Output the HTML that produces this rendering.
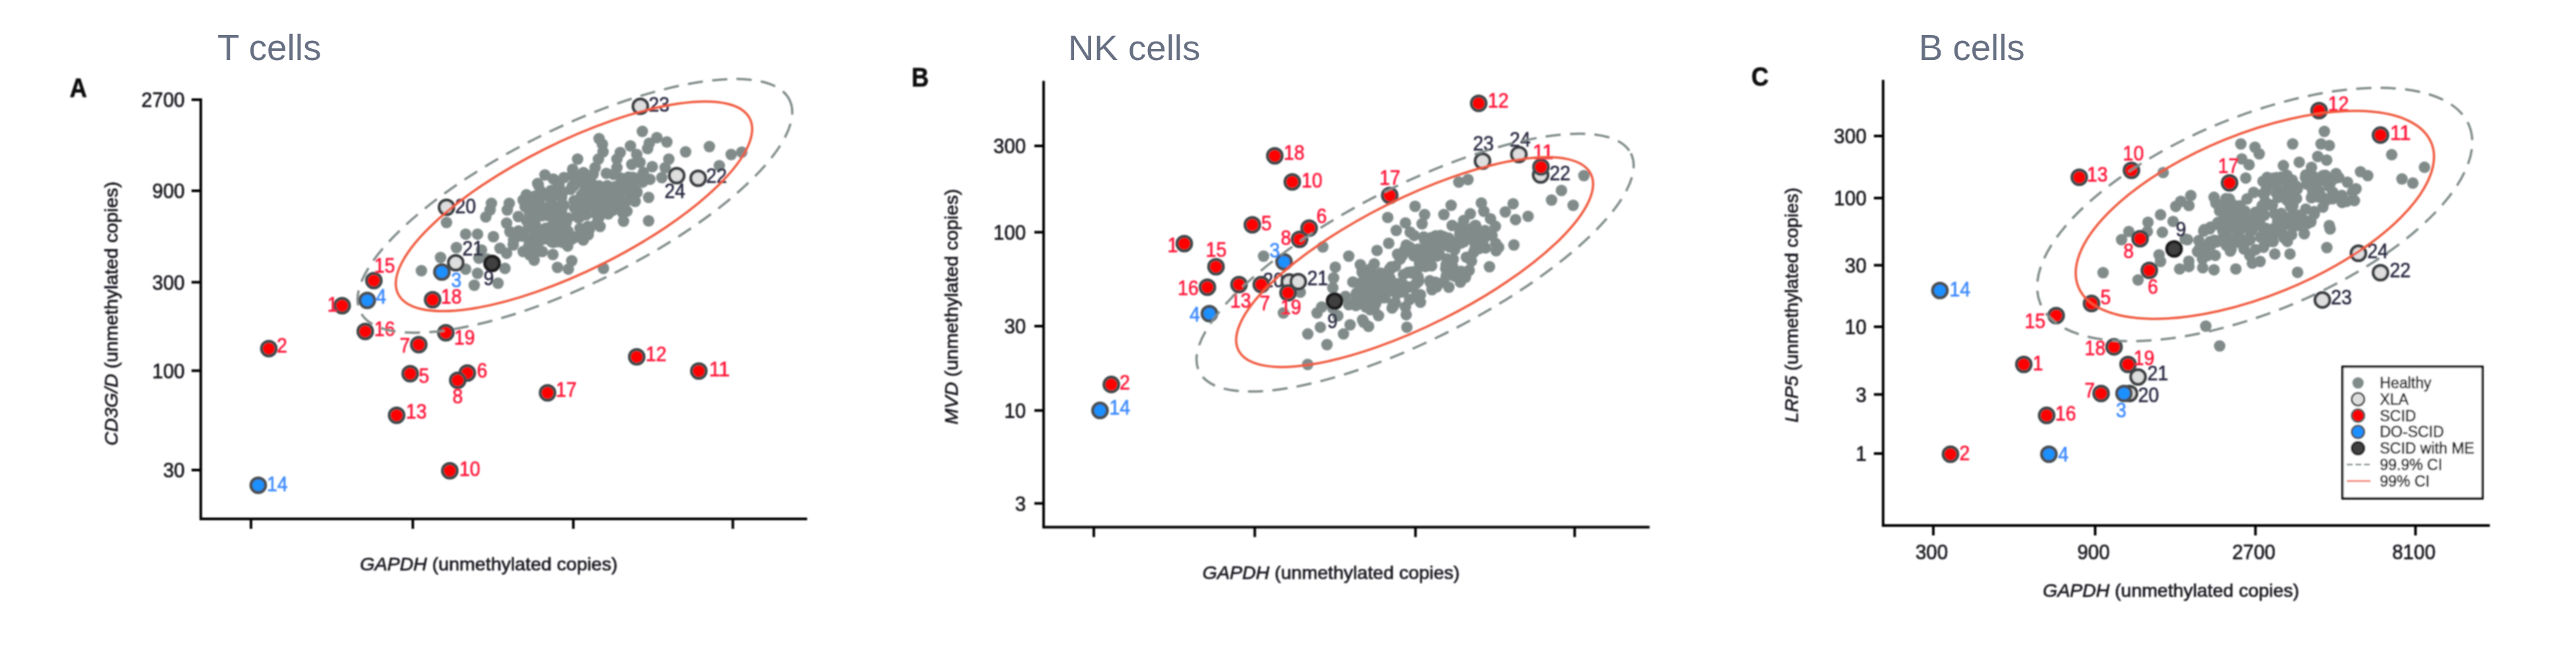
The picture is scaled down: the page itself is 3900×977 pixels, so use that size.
<!DOCTYPE html>
<html lang="en"><head><meta charset="utf-8"><title>Figure</title>
<style>
html,body{margin:0;padding:0;background:#fff;}
body{width:3900px;height:977px;overflow:hidden;}
svg{display:block;}
svg .ttl text{stroke:none;}
svg text{stroke-width:0.7px;stroke-linejoin:round;font-family:'Liberation Sans', Arial, sans-serif;font-size:31px;}
</style></head><body>
<svg width="3900" height="977" viewBox="0 0 3900 977">
<defs><filter id="soft" filterUnits="userSpaceOnUse" x="0" y="0" width="3900" height="977"><feGaussianBlur stdDeviation="0.9"/></filter></defs>
<rect width="3900" height="977" fill="#fff"/>
<g filter="url(#soft)">
<text transform="translate(105.5 146.5) scale(0.885 1)" style="font-size:41px;font-weight:bold" fill="#0a0a0a" stroke="#0a0a0a">A</text>
<path d="M304 149V786H1222" fill="none" stroke="#000" stroke-width="3.9" stroke-linejoin="miter"/>
<path d="M290 151H304M290 289H304M290 427.5H304M290 561.5H304M290 712H304M380 786V801M625 786V801M868 786V801M1109.5 786V801" fill="none" stroke="#000" stroke-width="3.9"/>
<text x="279.7" y="162" text-anchor="end" textLength="65.6" lengthAdjust="spacingAndGlyphs" fill="#17171f" stroke="#17171f">2700</text>
<text x="279.7" y="300" text-anchor="end" textLength="49.2" lengthAdjust="spacingAndGlyphs" fill="#17171f" stroke="#17171f">900</text>
<text x="279.7" y="438.5" text-anchor="end" textLength="49.2" lengthAdjust="spacingAndGlyphs" fill="#17171f" stroke="#17171f">300</text>
<text x="279.7" y="572.5" text-anchor="end" textLength="49.2" lengthAdjust="spacingAndGlyphs" fill="#17171f" stroke="#17171f">100</text>
<text x="279.7" y="723" text-anchor="end" textLength="32.8" lengthAdjust="spacingAndGlyphs" fill="#17171f" stroke="#17171f">30</text>
<text transform="translate(178 675) rotate(-90)" textLength="400" lengthAdjust="spacingAndGlyphs" style="font-size:28.5px" fill="#17171f" stroke="#17171f"><tspan font-style="italic">CD3G/D</tspan> (unmethylated copies)</text>
<text x="545" y="864" textLength="390" lengthAdjust="spacingAndGlyphs" style="font-size:28.5px" fill="#17171f" stroke="#17171f"><tspan font-style="italic">GAPDH</tspan> (unmethylated copies)</text>
<g fill="#808b8a">
<circle cx="972.5" cy="199" r="8.7"/><circle cx="907" cy="210" r="8.7"/><circle cx="912" cy="218.5" r="8.7"/><circle cx="913" cy="230" r="8.7"/><circle cx="954.5" cy="221" r="8.7"/><circle cx="994.5" cy="208.5" r="8.7"/><circle cx="1009.6" cy="215" r="8.7"/><circle cx="983" cy="217" r="8.7"/><circle cx="980.5" cy="225" r="8.7"/><circle cx="1038" cy="230" r="8.7"/><circle cx="1074" cy="222" r="8.7"/><circle cx="1107" cy="234" r="8.7"/><circle cx="1123" cy="230.5" r="8.7"/><circle cx="1089" cy="251" r="8.7"/><circle cx="874.5" cy="241" r="8.7"/><circle cx="1012.6" cy="241" r="8.7"/><circle cx="1007" cy="254" r="8.7"/><circle cx="1002" cy="269" r="8.7"/><circle cx="867" cy="256.5" r="8.7"/><circle cx="825" cy="265" r="8.7"/><circle cx="814" cy="278" r="8.7"/><circle cx="906" cy="241" r="8.7"/><circle cx="901" cy="254" r="8.7"/><circle cx="898" cy="264" r="8.7"/><circle cx="939" cy="231" r="8.7"/><circle cx="934" cy="241" r="8.7"/><circle cx="964" cy="234" r="8.7"/><circle cx="969" cy="246" r="8.7"/><circle cx="934" cy="254" r="8.7"/><circle cx="956.5" cy="249" r="8.7"/><circle cx="929" cy="264" r="8.7"/><circle cx="959" cy="269" r="8.7"/><circle cx="974" cy="261.5" r="8.7"/><circle cx="984" cy="271.6" r="8.7"/><circle cx="944" cy="274" r="8.7"/><circle cx="744" cy="308" r="8.7"/><circle cx="742" cy="318" r="8.7"/><circle cx="735.5" cy="328.6" r="8.7"/><circle cx="771" cy="308" r="8.7"/><circle cx="768" cy="318" r="8.7"/><circle cx="676" cy="337" r="8.7"/><circle cx="705" cy="354.7" r="8.7"/><circle cx="723" cy="354.7" r="8.7"/><circle cx="747" cy="358.5" r="8.7"/><circle cx="691" cy="375" r="8.7"/><circle cx="667" cy="390" r="8.7"/><circle cx="638" cy="410" r="8.7"/><circle cx="705" cy="407.7" r="8.7"/><circle cx="723" cy="414" r="8.7"/><circle cx="725" cy="391" r="8.7"/><circle cx="729" cy="378.7" r="8.7"/><circle cx="754" cy="429" r="8.7"/><circle cx="718" cy="432" r="8.7"/><circle cx="767" cy="338" r="8.7"/><circle cx="772" cy="351" r="8.7"/><circle cx="784.7" cy="328" r="8.7"/><circle cx="782" cy="358.5" r="8.7"/><circle cx="757" cy="376" r="8.7"/><circle cx="767" cy="383.7" r="8.7"/><circle cx="764.5" cy="406.5" r="8.7"/><circle cx="777" cy="371" r="8.7"/><circle cx="792" cy="381" r="8.7"/><circle cx="802" cy="386" r="8.7"/><circle cx="808.7" cy="394" r="8.7"/><circle cx="821" cy="381" r="8.7"/><circle cx="844" cy="405" r="8.7"/><circle cx="860.5" cy="407.7" r="8.7"/><circle cx="865.6" cy="395" r="8.7"/><circle cx="913.6" cy="406.5" r="8.7"/><circle cx="908.5" cy="343" r="8.7"/><circle cx="944" cy="335" r="8.7"/><circle cx="982" cy="334.5" r="8.7"/><circle cx="843" cy="366" r="8.7"/><circle cx="863" cy="363.5" r="8.7"/><circle cx="883" cy="363.5" r="8.7"/><circle cx="887" cy="357" r="8.7"/><circle cx="878" cy="346" r="8.7"/><circle cx="860.5" cy="353" r="8.7"/><circle cx="838" cy="356" r="8.7"/><circle cx="817.5" cy="353" r="8.7"/><circle cx="807" cy="363.5" r="8.7"/><circle cx="800" cy="346" r="8.7"/><circle cx="802" cy="330.6" r="8.7"/><circle cx="795" cy="313" r="8.7"/><circle cx="797" cy="295" r="8.7"/><circle cx="815" cy="280" r="8.7"/><circle cx="792" cy="303" r="8.7"/><circle cx="880.7" cy="325.6" r="8.7"/><circle cx="920" cy="318" r="8.7"/><circle cx="939" cy="308" r="8.7"/><circle cx="961.6" cy="305" r="8.7"/><circle cx="982" cy="299" r="8.7"/><circle cx="964" cy="290" r="8.7"/><circle cx="865.7" cy="265.6" r="8.7"/><circle cx="844.8" cy="283.7" r="8.7"/><circle cx="864" cy="286.9" r="8.7"/><circle cx="874.9" cy="267.7" r="8.7"/><circle cx="844.6" cy="294.2" r="8.7"/><circle cx="804.4" cy="307.8" r="8.7"/><circle cx="883.3" cy="261.5" r="8.7"/><circle cx="819.5" cy="295.5" r="8.7"/><circle cx="840.4" cy="287.7" r="8.7"/><circle cx="818.1" cy="289" r="8.7"/><circle cx="820.3" cy="296.5" r="8.7"/><circle cx="876.9" cy="271.4" r="8.7"/><circle cx="853.8" cy="269" r="8.7"/><circle cx="809.6" cy="297.1" r="8.7"/><circle cx="869" cy="281.3" r="8.7"/><circle cx="883.7" cy="262.8" r="8.7"/><circle cx="878" cy="275.2" r="8.7"/><circle cx="829.8" cy="296.6" r="8.7"/><circle cx="847.8" cy="287.5" r="8.7"/><circle cx="871.2" cy="268.9" r="8.7"/><circle cx="817.6" cy="301.3" r="8.7"/><circle cx="866.8" cy="281.1" r="8.7"/><circle cx="833.9" cy="288.8" r="8.7"/><circle cx="851" cy="293.1" r="8.7"/><circle cx="846.2" cy="280.8" r="8.7"/><circle cx="837.8" cy="271.2" r="8.7"/><circle cx="808.5" cy="311.9" r="8.7"/><circle cx="890.5" cy="265.9" r="8.7"/><circle cx="844.9" cy="313.4" r="8.7"/><circle cx="890.9" cy="350.1" r="8.7"/><circle cx="931.2" cy="296.8" r="8.7"/><circle cx="939.9" cy="269.6" r="8.7"/><circle cx="892.3" cy="347.2" r="8.7"/><circle cx="890.3" cy="311.7" r="8.7"/><circle cx="831.4" cy="348.3" r="8.7"/><circle cx="942.2" cy="312" r="8.7"/><circle cx="960.3" cy="296.9" r="8.7"/><circle cx="938.3" cy="291.7" r="8.7"/><circle cx="886" cy="311.4" r="8.7"/><circle cx="881" cy="297.2" r="8.7"/><circle cx="876.5" cy="320.6" r="8.7"/><circle cx="842.8" cy="327.5" r="8.7"/><circle cx="887.4" cy="325.3" r="8.7"/><circle cx="897.2" cy="308.1" r="8.7"/><circle cx="814.1" cy="359.8" r="8.7"/><circle cx="957" cy="302.8" r="8.7"/><circle cx="944.8" cy="310.4" r="8.7"/><circle cx="837.4" cy="367" r="8.7"/><circle cx="898.1" cy="279.9" r="8.7"/><circle cx="919.5" cy="281.3" r="8.7"/><circle cx="801.8" cy="369.1" r="8.7"/><circle cx="832.1" cy="312.5" r="8.7"/><circle cx="808.9" cy="358.2" r="8.7"/><circle cx="803" cy="342.4" r="8.7"/><circle cx="916.9" cy="297.8" r="8.7"/><circle cx="839.7" cy="338.6" r="8.7"/><circle cx="777.5" cy="363.8" r="8.7"/><circle cx="850.9" cy="311.7" r="8.7"/><circle cx="869.3" cy="303.9" r="8.7"/><circle cx="906.6" cy="329.9" r="8.7"/><circle cx="812" cy="370.8" r="8.7"/><circle cx="814.3" cy="368.6" r="8.7"/><circle cx="912.9" cy="306.5" r="8.7"/><circle cx="935.9" cy="292.7" r="8.7"/><circle cx="825.2" cy="358.9" r="8.7"/><circle cx="857.3" cy="337.1" r="8.7"/><circle cx="844.2" cy="347.9" r="8.7"/><circle cx="781.9" cy="355" r="8.7"/><circle cx="848.1" cy="362.8" r="8.7"/><circle cx="851.3" cy="367.1" r="8.7"/><circle cx="922.2" cy="292.3" r="8.7"/><circle cx="880.2" cy="295.5" r="8.7"/><circle cx="917" cy="301.8" r="8.7"/><circle cx="847.1" cy="325.4" r="8.7"/><circle cx="822.5" cy="362.2" r="8.7"/><circle cx="853.5" cy="310.8" r="8.7"/><circle cx="802" cy="372" r="8.7"/><circle cx="835.3" cy="342.7" r="8.7"/><circle cx="852.3" cy="361.6" r="8.7"/><circle cx="811.1" cy="342.3" r="8.7"/><circle cx="835.3" cy="321.5" r="8.7"/><circle cx="920.9" cy="324.1" r="8.7"/><circle cx="957.6" cy="268.9" r="8.7"/><circle cx="957.9" cy="294.1" r="8.7"/><circle cx="887.5" cy="352.1" r="8.7"/><circle cx="829.8" cy="362.2" r="8.7"/><circle cx="930.7" cy="301.5" r="8.7"/><circle cx="940.1" cy="279.6" r="8.7"/><circle cx="837.9" cy="326" r="8.7"/><circle cx="952.4" cy="290.8" r="8.7"/><circle cx="804.8" cy="362.1" r="8.7"/><circle cx="943.3" cy="312" r="8.7"/><circle cx="847.7" cy="345" r="8.7"/><circle cx="928.6" cy="286.2" r="8.7"/><circle cx="881.8" cy="298.6" r="8.7"/><circle cx="785.5" cy="350.8" r="8.7"/><circle cx="955.9" cy="286.1" r="8.7"/><circle cx="959.6" cy="276.3" r="8.7"/><circle cx="840.1" cy="361.5" r="8.7"/><circle cx="897.8" cy="280.7" r="8.7"/><circle cx="971.1" cy="267.7" r="8.7"/><circle cx="831.7" cy="362.6" r="8.7"/><circle cx="865.8" cy="362" r="8.7"/><circle cx="951.5" cy="268.3" r="8.7"/><circle cx="826.1" cy="345.7" r="8.7"/><circle cx="800.7" cy="371.6" r="8.7"/><circle cx="893.8" cy="309.2" r="8.7"/><circle cx="825.6" cy="315.3" r="8.7"/><circle cx="822.7" cy="357.9" r="8.7"/><circle cx="973.1" cy="275.7" r="8.7"/><circle cx="918.4" cy="312.4" r="8.7"/><circle cx="829.2" cy="348.9" r="8.7"/><circle cx="829.9" cy="326.7" r="8.7"/><circle cx="924.1" cy="305.7" r="8.7"/><circle cx="944.2" cy="282.3" r="8.7"/><circle cx="803.6" cy="326.6" r="8.7"/><circle cx="931" cy="282.6" r="8.7"/><circle cx="859.7" cy="349.8" r="8.7"/><circle cx="837.1" cy="385.5" r="8.7"/><circle cx="911.6" cy="288.2" r="8.7"/><circle cx="840.4" cy="366" r="8.7"/><circle cx="785.1" cy="349.7" r="8.7"/><circle cx="874.5" cy="325.9" r="8.7"/><circle cx="877.1" cy="329.4" r="8.7"/><circle cx="846.1" cy="332.1" r="8.7"/><circle cx="964.4" cy="291.6" r="8.7"/><circle cx="859.5" cy="372.7" r="8.7"/><circle cx="738.1" cy="392.4" r="8.7"/><circle cx="927.4" cy="318.9" r="8.7"/><circle cx="875.5" cy="310.3" r="8.7"/><circle cx="909.6" cy="297.8" r="8.7"/><circle cx="889.6" cy="292.6" r="8.7"/><circle cx="943.5" cy="304.9" r="8.7"/><circle cx="917.1" cy="288.6" r="8.7"/><circle cx="897.8" cy="300" r="8.7"/><circle cx="885.1" cy="311.8" r="8.7"/><circle cx="918" cy="262.6" r="8.7"/><circle cx="850.2" cy="318.1" r="8.7"/><circle cx="838.3" cy="345.4" r="8.7"/><circle cx="834.8" cy="303.5" r="8.7"/><circle cx="875.4" cy="329.7" r="8.7"/><circle cx="987.5" cy="252.5" r="8.7"/><circle cx="787.5" cy="355.2" r="8.7"/><circle cx="907" cy="281.4" r="8.7"/><circle cx="829" cy="358.2" r="8.7"/><circle cx="873.6" cy="326.9" r="8.7"/><circle cx="820.8" cy="326.8" r="8.7"/><circle cx="848.5" cy="330" r="8.7"/><circle cx="853.9" cy="342.4" r="8.7"/><circle cx="914.8" cy="314.4" r="8.7"/><circle cx="895.2" cy="287.3" r="8.7"/><circle cx="804.6" cy="377.1" r="8.7"/><circle cx="874.1" cy="324.1" r="8.7"/><circle cx="791.3" cy="357.7" r="8.7"/><circle cx="819.8" cy="326.3" r="8.7"/><circle cx="813.8" cy="313.1" r="8.7"/><circle cx="890" cy="342.9" r="8.7"/><circle cx="825.1" cy="348.4" r="8.7"/><circle cx="805.1" cy="373.4" r="8.7"/><circle cx="871.5" cy="359" r="8.7"/><circle cx="898.1" cy="311.7" r="8.7"/><circle cx="949.2" cy="319.8" r="8.7"/><circle cx="909.4" cy="288" r="8.7"/><circle cx="806.5" cy="308.4" r="8.7"/><circle cx="810.9" cy="382.1" r="8.7"/><circle cx="850.3" cy="298.5" r="8.7"/><circle cx="954" cy="271.9" r="8.7"/><circle cx="902.1" cy="324.2" r="8.7"/><circle cx="903" cy="339" r="8.7"/><circle cx="869.7" cy="314.8" r="8.7"/><circle cx="812.1" cy="315.2" r="8.7"/><circle cx="835.2" cy="366.1" r="8.7"/><circle cx="942.4" cy="322" r="8.7"/><circle cx="892.2" cy="277.8" r="8.7"/><circle cx="906.4" cy="300.9" r="8.7"/><circle cx="873.2" cy="272.5" r="8.7"/><circle cx="801.8" cy="324" r="8.7"/><circle cx="935.5" cy="285.1" r="8.7"/><circle cx="884.9" cy="289.4" r="8.7"/><circle cx="910.6" cy="322" r="8.7"/><circle cx="903.7" cy="302.6" r="8.7"/><circle cx="809.7" cy="338.1" r="8.7"/><circle cx="919.7" cy="312.3" r="8.7"/><circle cx="890.6" cy="355.5" r="8.7"/><circle cx="916.1" cy="300" r="8.7"/><circle cx="859.9" cy="330.2" r="8.7"/><circle cx="797.5" cy="334.7" r="8.7"/><circle cx="889.4" cy="298" r="8.7"/>
</g>
<circle cx="969.5" cy="161" r="11.1" fill="#dedede" stroke="#3c4042" stroke-width="4.5"/>
<circle cx="1024.5" cy="266" r="11.1" fill="#dedede" stroke="#3c4042" stroke-width="4.5"/>
<circle cx="1057" cy="270" r="11.1" fill="#dedede" stroke="#3c4042" stroke-width="4.5"/>
<circle cx="676" cy="314" r="11.1" fill="#dedede" stroke="#3c4042" stroke-width="4.5"/>
<circle cx="690" cy="398" r="11.1" fill="#dedede" stroke="#3c4042" stroke-width="4.5"/>
<circle cx="745" cy="399" r="11.1" fill="#404040" stroke="#1c1c1c" stroke-width="4.5"/>
<circle cx="669" cy="412" r="11.1" fill="#1e90ff" stroke="#4a5052" stroke-width="4.5"/>
<circle cx="566" cy="425" r="11.1" fill="#ff0000" stroke="#414a4c" stroke-width="4.5"/>
<circle cx="556" cy="455" r="11.1" fill="#1e90ff" stroke="#4a5052" stroke-width="4.5"/>
<circle cx="518" cy="463" r="11.1" fill="#ff0000" stroke="#414a4c" stroke-width="4.5"/>
<circle cx="655" cy="454" r="11.1" fill="#ff0000" stroke="#414a4c" stroke-width="4.5"/>
<circle cx="553" cy="502" r="11.1" fill="#ff0000" stroke="#414a4c" stroke-width="4.5"/>
<circle cx="675" cy="504" r="11.1" fill="#ff0000" stroke="#414a4c" stroke-width="4.5"/>
<circle cx="634" cy="522" r="11.1" fill="#ff0000" stroke="#414a4c" stroke-width="4.5"/>
<circle cx="407" cy="528" r="11.1" fill="#ff0000" stroke="#414a4c" stroke-width="4.5"/>
<circle cx="964" cy="540.5" r="11.1" fill="#ff0000" stroke="#414a4c" stroke-width="4.5"/>
<circle cx="1058" cy="562" r="11.1" fill="#ff0000" stroke="#414a4c" stroke-width="4.5"/>
<circle cx="621" cy="566" r="11.1" fill="#ff0000" stroke="#414a4c" stroke-width="4.5"/>
<circle cx="707.5" cy="565" r="11.1" fill="#ff0000" stroke="#414a4c" stroke-width="4.5"/>
<circle cx="693" cy="576" r="11.1" fill="#ff0000" stroke="#414a4c" stroke-width="4.5"/>
<circle cx="829" cy="595" r="11.1" fill="#ff0000" stroke="#414a4c" stroke-width="4.5"/>
<circle cx="600.5" cy="629" r="11.1" fill="#ff0000" stroke="#414a4c" stroke-width="4.5"/>
<circle cx="681" cy="713" r="11.1" fill="#ff0000" stroke="#414a4c" stroke-width="4.5"/>
<circle cx="391" cy="735" r="11.1" fill="#1e90ff" stroke="#4a5052" stroke-width="4.5"/>
<text x="982" y="169" textLength="31.7" lengthAdjust="spacingAndGlyphs" fill="#2e2e46" stroke="#2e2e46">23</text>
<text x="1006" y="300" textLength="31.7" lengthAdjust="spacingAndGlyphs" fill="#2e2e46" stroke="#2e2e46">24</text>
<text x="1069" y="277" textLength="31.7" lengthAdjust="spacingAndGlyphs" fill="#2e2e46" stroke="#2e2e46">22</text>
<text x="689" y="323" textLength="31.7" lengthAdjust="spacingAndGlyphs" fill="#2e2e46" stroke="#2e2e46">20</text>
<text x="700" y="387" textLength="31.7" lengthAdjust="spacingAndGlyphs" fill="#2e2e46" stroke="#2e2e46">21</text>
<text x="732" y="432" textLength="15.8" lengthAdjust="spacingAndGlyphs" fill="#2e2e46" stroke="#2e2e46">9</text>
<text x="683" y="435" textLength="15.8" lengthAdjust="spacingAndGlyphs" fill="#3f8cff" stroke="#3f8cff">3</text>
<text x="566.4" y="413" textLength="31.7" lengthAdjust="spacingAndGlyphs" fill="#ff1a3c" stroke="#ff1a3c">15</text>
<text x="569" y="460" textLength="15.8" lengthAdjust="spacingAndGlyphs" fill="#3f8cff" stroke="#3f8cff">4</text>
<text x="495.4" y="472" textLength="15.8" lengthAdjust="spacingAndGlyphs" fill="#ff1a3c" stroke="#ff1a3c">1</text>
<text x="667.4" y="460" textLength="31.7" lengthAdjust="spacingAndGlyphs" fill="#ff1a3c" stroke="#ff1a3c">18</text>
<text x="566.4" y="509" textLength="31.7" lengthAdjust="spacingAndGlyphs" fill="#ff1a3c" stroke="#ff1a3c">16</text>
<text x="687.4" y="522" textLength="31.7" lengthAdjust="spacingAndGlyphs" fill="#ff1a3c" stroke="#ff1a3c">19</text>
<text x="605" y="534" textLength="15.8" lengthAdjust="spacingAndGlyphs" fill="#ff1a3c" stroke="#ff1a3c">7</text>
<text x="419" y="534" textLength="15.8" lengthAdjust="spacingAndGlyphs" fill="#ff1a3c" stroke="#ff1a3c">2</text>
<text x="977.4" y="547" textLength="31.7" lengthAdjust="spacingAndGlyphs" fill="#ff1a3c" stroke="#ff1a3c">12</text>
<text x="1073.4" y="570" textLength="31.7" lengthAdjust="spacingAndGlyphs" fill="#ff1a3c" stroke="#ff1a3c">11</text>
<text x="634" y="580" textLength="15.8" lengthAdjust="spacingAndGlyphs" fill="#ff1a3c" stroke="#ff1a3c">5</text>
<text x="722" y="572" textLength="15.8" lengthAdjust="spacingAndGlyphs" fill="#ff1a3c" stroke="#ff1a3c">6</text>
<text x="685" y="611" textLength="15.8" lengthAdjust="spacingAndGlyphs" fill="#ff1a3c" stroke="#ff1a3c">8</text>
<text x="841.4" y="601" textLength="31.7" lengthAdjust="spacingAndGlyphs" fill="#ff1a3c" stroke="#ff1a3c">17</text>
<text x="614.4" y="634" textLength="31.7" lengthAdjust="spacingAndGlyphs" fill="#ff1a3c" stroke="#ff1a3c">13</text>
<text x="695.4" y="721" textLength="31.7" lengthAdjust="spacingAndGlyphs" fill="#ff1a3c" stroke="#ff1a3c">10</text>
<text x="403.9" y="744" textLength="31.7" lengthAdjust="spacingAndGlyphs" fill="#3f8cff" stroke="#3f8cff">14</text>
<ellipse cx="870.4" cy="311.8" rx="362.4" ry="117.8" transform="rotate(-26.3 870.4 311.8)" fill="none" stroke="#808b8a" stroke-width="3.5" stroke-dasharray="23 14"/>
<ellipse cx="869" cy="312.5" rx="297.5" ry="97.4" transform="rotate(-26.5 869 312.5)" fill="none" stroke="#f0583c" stroke-width="3.5"/>
<text transform="translate(1380 130.5) scale(0.885 1)" style="font-size:41px;font-weight:bold" fill="#0a0a0a" stroke="#0a0a0a">B</text>
<path d="M1580 122.6V798.5H2497.5" fill="none" stroke="#000" stroke-width="3.9" stroke-linejoin="miter"/>
<path d="M1566 221H1580M1566 351.7H1580M1566 494H1580M1566 621.7H1580M1566 762.5H1580M1656 798.5V813.5M1899.7 798.5V813.5M2143 798.5V813.5M2384 798.5V813.5" fill="none" stroke="#000" stroke-width="3.9"/>
<text x="1553.2" y="232" text-anchor="end" textLength="49.2" lengthAdjust="spacingAndGlyphs" fill="#17171f" stroke="#17171f">300</text>
<text x="1553.2" y="362.7" text-anchor="end" textLength="49.2" lengthAdjust="spacingAndGlyphs" fill="#17171f" stroke="#17171f">100</text>
<text x="1553.2" y="505" text-anchor="end" textLength="32.8" lengthAdjust="spacingAndGlyphs" fill="#17171f" stroke="#17171f">30</text>
<text x="1553.2" y="632.7" text-anchor="end" textLength="32.8" lengthAdjust="spacingAndGlyphs" fill="#17171f" stroke="#17171f">10</text>
<text x="1553.2" y="773.5" text-anchor="end" textLength="16.4" lengthAdjust="spacingAndGlyphs" fill="#17171f" stroke="#17171f">3</text>
<text transform="translate(1450 643) rotate(-90)" textLength="357" lengthAdjust="spacingAndGlyphs" style="font-size:28.5px" fill="#17171f" stroke="#17171f"><tspan font-style="italic">MVD</tspan> (unmethylated copies)</text>
<text x="1820.6" y="876.6" textLength="389.4" lengthAdjust="spacingAndGlyphs" style="font-size:28.5px" fill="#17171f" stroke="#17171f"><tspan font-style="italic">GAPDH</tspan> (unmethylated copies)</text>
<g fill="#808b8a">
<circle cx="2398" cy="266" r="8.7"/><circle cx="2364" cy="288.5" r="8.7"/><circle cx="2349" cy="303" r="8.7"/><circle cx="2381.7" cy="311" r="8.7"/><circle cx="2208.6" cy="275.8" r="8.7"/><circle cx="2222.5" cy="272" r="8.7"/><circle cx="2142.4" cy="312.5" r="8.7"/><circle cx="2156.8" cy="325" r="8.7"/><circle cx="2153" cy="339" r="8.7"/><circle cx="2101" cy="329.4" r="8.7"/><circle cx="2127.8" cy="337.7" r="8.7"/><circle cx="2113.9" cy="349" r="8.7"/><circle cx="2135" cy="351.6" r="8.7"/><circle cx="2197" cy="311" r="8.7"/><circle cx="2186" cy="325" r="8.7"/><circle cx="2242.7" cy="307.4" r="8.7"/><circle cx="2246.5" cy="320" r="8.7"/><circle cx="2226" cy="323.8" r="8.7"/><circle cx="2290.8" cy="308.7" r="8.7"/><circle cx="2279" cy="321" r="8.7"/><circle cx="2313.5" cy="327.6" r="8.7"/><circle cx="2294.5" cy="332.7" r="8.7"/><circle cx="2198.5" cy="341.5" r="8.7"/><circle cx="2216" cy="334" r="8.7"/><circle cx="2256.6" cy="331.4" r="8.7"/><circle cx="2264" cy="342.8" r="8.7"/><circle cx="2180.8" cy="356.7" r="8.7"/><circle cx="2155.5" cy="359" r="8.7"/><circle cx="2223.8" cy="351.6" r="8.7"/><circle cx="2259" cy="356.7" r="8.7"/><circle cx="2234" cy="341.5" r="8.7"/><circle cx="1913" cy="388" r="8.7"/><circle cx="2002.7" cy="374" r="8.7"/><circle cx="2042" cy="388" r="8.7"/><circle cx="2021.6" cy="404.7" r="8.7"/><circle cx="2019" cy="421" r="8.7"/><circle cx="2017.8" cy="436" r="8.7"/><circle cx="2084.8" cy="379.4" r="8.7"/><circle cx="2059.5" cy="401" r="8.7"/><circle cx="2102.5" cy="368.5" r="8.7"/><circle cx="2292" cy="371" r="8.7"/><circle cx="2255" cy="404" r="8.7"/><circle cx="2212" cy="411" r="8.7"/><circle cx="2218.7" cy="420" r="8.7"/><circle cx="2211" cy="427.4" r="8.7"/><circle cx="2193.5" cy="435" r="8.7"/><circle cx="2173" cy="427.4" r="8.7"/><circle cx="2168" cy="438.8" r="8.7"/><circle cx="2150.5" cy="446.4" r="8.7"/><circle cx="2150.5" cy="457.8" r="8.7"/><circle cx="2127.8" cy="465" r="8.7"/><circle cx="2129" cy="476.7" r="8.7"/><circle cx="2130" cy="495.7" r="8.7"/><circle cx="2074.7" cy="469" r="8.7"/><circle cx="2087" cy="478" r="8.7"/><circle cx="2064.6" cy="488" r="8.7"/><circle cx="2072" cy="494.4" r="8.7"/><circle cx="2044" cy="492" r="8.7"/><circle cx="2034" cy="505.8" r="8.7"/><circle cx="2009" cy="522" r="8.7"/><circle cx="1999" cy="495.7" r="8.7"/><circle cx="1980" cy="505.8" r="8.7"/><circle cx="1994" cy="474" r="8.7"/><circle cx="2001" cy="465" r="8.7"/><circle cx="1943" cy="474" r="8.7"/><circle cx="1968.6" cy="442.6" r="8.7"/><circle cx="2042" cy="461.6" r="8.7"/><circle cx="2037" cy="449" r="8.7"/><circle cx="2107.6" cy="466.6" r="8.7"/><circle cx="1979.8" cy="552" r="8.7"/><circle cx="2100.6" cy="434.6" r="8.7"/><circle cx="2077.9" cy="421.5" r="8.7"/><circle cx="2080.5" cy="437.7" r="8.7"/><circle cx="2067.7" cy="418.1" r="8.7"/><circle cx="2062.3" cy="434.8" r="8.7"/><circle cx="2104.4" cy="421.3" r="8.7"/><circle cx="2060.3" cy="428.5" r="8.7"/><circle cx="2063" cy="430" r="8.7"/><circle cx="2070.7" cy="459.7" r="8.7"/><circle cx="2073.4" cy="438.8" r="8.7"/><circle cx="2048.2" cy="427.2" r="8.7"/><circle cx="2082.9" cy="459.5" r="8.7"/><circle cx="2075.2" cy="415.5" r="8.7"/><circle cx="2106.4" cy="435.1" r="8.7"/><circle cx="2097.3" cy="446.4" r="8.7"/><circle cx="2096.6" cy="439.9" r="8.7"/><circle cx="2094.1" cy="436.9" r="8.7"/><circle cx="2067.9" cy="439.9" r="8.7"/><circle cx="2079.6" cy="456.9" r="8.7"/><circle cx="2078.2" cy="452.2" r="8.7"/><circle cx="2068.5" cy="460.3" r="8.7"/><circle cx="2098.7" cy="419.4" r="8.7"/><circle cx="2085.3" cy="453.6" r="8.7"/><circle cx="2086.3" cy="427.6" r="8.7"/><circle cx="2091.8" cy="422.1" r="8.7"/><circle cx="2185.7" cy="358.5" r="8.7"/><circle cx="2232.7" cy="342.2" r="8.7"/><circle cx="2234.9" cy="344.6" r="8.7"/><circle cx="2157.5" cy="403.7" r="8.7"/><circle cx="2190.7" cy="392.1" r="8.7"/><circle cx="2106.4" cy="404.2" r="8.7"/><circle cx="2174" cy="430.8" r="8.7"/><circle cx="2166.5" cy="360.8" r="8.7"/><circle cx="2230.8" cy="382.7" r="8.7"/><circle cx="2179.8" cy="370.8" r="8.7"/><circle cx="2112.4" cy="458.5" r="8.7"/><circle cx="2074.8" cy="448.1" r="8.7"/><circle cx="2220.6" cy="346.7" r="8.7"/><circle cx="2109.2" cy="460.6" r="8.7"/><circle cx="2147.7" cy="426.1" r="8.7"/><circle cx="2053.5" cy="445.6" r="8.7"/><circle cx="2093.8" cy="450.9" r="8.7"/><circle cx="2209.1" cy="345.3" r="8.7"/><circle cx="2096.9" cy="450.9" r="8.7"/><circle cx="2115.9" cy="385" r="8.7"/><circle cx="2053.8" cy="443.9" r="8.7"/><circle cx="2188.7" cy="406.5" r="8.7"/><circle cx="2069.6" cy="434.9" r="8.7"/><circle cx="2056.4" cy="451.5" r="8.7"/><circle cx="2220" cy="389.6" r="8.7"/><circle cx="2248.9" cy="375.6" r="8.7"/><circle cx="2238.9" cy="376.6" r="8.7"/><circle cx="2140.5" cy="387.6" r="8.7"/><circle cx="2183" cy="372.9" r="8.7"/><circle cx="2071.2" cy="443.6" r="8.7"/><circle cx="2169.9" cy="386.4" r="8.7"/><circle cx="2146.4" cy="377.5" r="8.7"/><circle cx="2175.2" cy="385.9" r="8.7"/><circle cx="2057.6" cy="460.3" r="8.7"/><circle cx="2076.6" cy="456.8" r="8.7"/><circle cx="2175" cy="434.5" r="8.7"/><circle cx="2098.3" cy="428.9" r="8.7"/><circle cx="2107.3" cy="436.7" r="8.7"/><circle cx="2192.6" cy="409.4" r="8.7"/><circle cx="2191" cy="363.5" r="8.7"/><circle cx="2140.9" cy="413.3" r="8.7"/><circle cx="2123.1" cy="387" r="8.7"/><circle cx="2193.4" cy="360.8" r="8.7"/><circle cx="2090" cy="413.8" r="8.7"/><circle cx="2159.1" cy="398.3" r="8.7"/><circle cx="2121.4" cy="433.6" r="8.7"/><circle cx="2110.6" cy="462.1" r="8.7"/><circle cx="2142.6" cy="411.1" r="8.7"/><circle cx="2156.9" cy="363.9" r="8.7"/><circle cx="2139.8" cy="413.8" r="8.7"/><circle cx="2214.3" cy="360.5" r="8.7"/><circle cx="2175" cy="429.2" r="8.7"/><circle cx="2171.5" cy="376.6" r="8.7"/><circle cx="2066" cy="434.2" r="8.7"/><circle cx="2233.1" cy="376.8" r="8.7"/><circle cx="2053.4" cy="453.4" r="8.7"/><circle cx="2136.9" cy="411.9" r="8.7"/><circle cx="2098.4" cy="441.3" r="8.7"/><circle cx="2059.5" cy="435.8" r="8.7"/><circle cx="2145" cy="446.3" r="8.7"/><circle cx="2076.9" cy="467" r="8.7"/><circle cx="2094.4" cy="441.9" r="8.7"/><circle cx="2132.1" cy="412.5" r="8.7"/><circle cx="2205.1" cy="367.9" r="8.7"/><circle cx="2201.8" cy="418.2" r="8.7"/><circle cx="2199.1" cy="404" r="8.7"/><circle cx="2202.5" cy="378.1" r="8.7"/><circle cx="2124.8" cy="415.9" r="8.7"/><circle cx="2210" cy="354.4" r="8.7"/><circle cx="2160.7" cy="398.6" r="8.7"/><circle cx="2104.1" cy="407.5" r="8.7"/><circle cx="2145.1" cy="388.1" r="8.7"/><circle cx="2147.3" cy="423" r="8.7"/><circle cx="2246.3" cy="362.4" r="8.7"/><circle cx="2079.4" cy="436.6" r="8.7"/><circle cx="2173.6" cy="361.7" r="8.7"/><circle cx="2104" cy="407.6" r="8.7"/><circle cx="2198" cy="396.2" r="8.7"/><circle cx="2144.1" cy="411.4" r="8.7"/><circle cx="2076.6" cy="448.7" r="8.7"/><circle cx="2072.4" cy="448.9" r="8.7"/><circle cx="2192.2" cy="362.8" r="8.7"/><circle cx="2236.9" cy="356.6" r="8.7"/><circle cx="2194.9" cy="374.1" r="8.7"/><circle cx="2158.6" cy="371" r="8.7"/><circle cx="2127" cy="377.9" r="8.7"/><circle cx="2189.5" cy="418.1" r="8.7"/><circle cx="2089.8" cy="439.1" r="8.7"/><circle cx="2149" cy="398.6" r="8.7"/><circle cx="2119.7" cy="392.5" r="8.7"/><circle cx="2211.5" cy="368.4" r="8.7"/><circle cx="2134" cy="374.1" r="8.7"/><circle cx="2140.9" cy="356.7" r="8.7"/><circle cx="2185.2" cy="427.4" r="8.7"/><circle cx="2080.3" cy="468.3" r="8.7"/><circle cx="2248.4" cy="349.1" r="8.7"/><circle cx="2231.7" cy="366" r="8.7"/><circle cx="2062.1" cy="411.7" r="8.7"/><circle cx="2126" cy="381.5" r="8.7"/><circle cx="2269" cy="374.6" r="8.7"/><circle cx="2151.1" cy="387.8" r="8.7"/><circle cx="2135.1" cy="377.5" r="8.7"/><circle cx="2218.5" cy="418.4" r="8.7"/><circle cx="2227.7" cy="395.5" r="8.7"/><circle cx="2109.3" cy="437.4" r="8.7"/><circle cx="2078" cy="432.6" r="8.7"/><circle cx="2159.2" cy="403.2" r="8.7"/><circle cx="2025.4" cy="478.3" r="8.7"/><circle cx="2074.7" cy="407.4" r="8.7"/><circle cx="2052.9" cy="462.8" r="8.7"/><circle cx="2134.4" cy="434.7" r="8.7"/><circle cx="2137.7" cy="413.6" r="8.7"/><circle cx="2264.6" cy="369" r="8.7"/><circle cx="2224.3" cy="409.5" r="8.7"/><circle cx="2157.4" cy="375.1" r="8.7"/><circle cx="2080.6" cy="399.6" r="8.7"/><circle cx="2173.6" cy="383.1" r="8.7"/><circle cx="2199.1" cy="404.7" r="8.7"/><circle cx="2100" cy="438.9" r="8.7"/><circle cx="2242.7" cy="360.2" r="8.7"/><circle cx="2216.1" cy="366.4" r="8.7"/><circle cx="2085.6" cy="434.8" r="8.7"/><circle cx="2134.1" cy="453.8" r="8.7"/><circle cx="2070.3" cy="453.1" r="8.7"/><circle cx="2175.3" cy="387.9" r="8.7"/><circle cx="2171.5" cy="374.2" r="8.7"/><circle cx="2062.9" cy="413.3" r="8.7"/><circle cx="2105.1" cy="407.8" r="8.7"/><circle cx="2166" cy="388.1" r="8.7"/><circle cx="2099.4" cy="413.1" r="8.7"/><circle cx="2017.7" cy="466.9" r="8.7"/><circle cx="2166.9" cy="360" r="8.7"/><circle cx="2144.1" cy="429.5" r="8.7"/><circle cx="2108" cy="434.9" r="8.7"/><circle cx="2265.1" cy="379.8" r="8.7"/><circle cx="2114.1" cy="444.8" r="8.7"/><circle cx="2146.8" cy="419.2" r="8.7"/><circle cx="2115.8" cy="429.8" r="8.7"/><circle cx="2104" cy="440" r="8.7"/><circle cx="2068" cy="465.1" r="8.7"/><circle cx="2204.9" cy="367.2" r="8.7"/><circle cx="2200.2" cy="392.6" r="8.7"/><circle cx="2208.9" cy="415.4" r="8.7"/><circle cx="2116.5" cy="443.9" r="8.7"/><circle cx="2159.8" cy="382.1" r="8.7"/><circle cx="2173.6" cy="357.2" r="8.7"/><circle cx="2062.9" cy="484.4" r="8.7"/><circle cx="2220.5" cy="354.6" r="8.7"/><circle cx="2129.1" cy="371.1" r="8.7"/><circle cx="2145" cy="448" r="8.7"/><circle cx="2112.6" cy="403.2" r="8.7"/><circle cx="2124.7" cy="431.3" r="8.7"/><circle cx="2213.2" cy="366.6" r="8.7"/><circle cx="2167.5" cy="402.7" r="8.7"/><circle cx="2124.5" cy="442.2" r="8.7"/><circle cx="2146.8" cy="378.6" r="8.7"/><circle cx="2102.9" cy="426.7" r="8.7"/><circle cx="2178.2" cy="367.8" r="8.7"/><circle cx="2149.1" cy="447" r="8.7"/><circle cx="2197.4" cy="401.9" r="8.7"/><circle cx="2179.2" cy="385.9" r="8.7"/><circle cx="2189.4" cy="401.1" r="8.7"/><circle cx="2165.8" cy="428.3" r="8.7"/><circle cx="2164.7" cy="425.3" r="8.7"/>
</g>
<text x="1912" y="435" textLength="31.7" lengthAdjust="spacingAndGlyphs" fill="#2e2e46" stroke="#2e2e46">20</text>
<circle cx="2238.7" cy="156.5" r="11.1" fill="#ff0000" stroke="#414a4c" stroke-width="4.5"/>
<circle cx="1930" cy="236" r="11.1" fill="#ff0000" stroke="#414a4c" stroke-width="4.5"/>
<circle cx="1956.5" cy="275.5" r="11.1" fill="#ff0000" stroke="#414a4c" stroke-width="4.5"/>
<circle cx="2104" cy="296" r="11.1" fill="#ff0000" stroke="#414a4c" stroke-width="4.5"/>
<circle cx="2244.5" cy="244" r="11.1" fill="#dedede" stroke="#3c4042" stroke-width="4.5"/>
<circle cx="2299.5" cy="234" r="11.1" fill="#dedede" stroke="#3c4042" stroke-width="4.5"/>
<circle cx="2332.5" cy="265" r="11.1" fill="#dedede" stroke="#3c4042" stroke-width="4.5"/>
<circle cx="2333" cy="253" r="11.1" fill="#ff0000" stroke="#414a4c" stroke-width="4.5"/>
<circle cx="1896" cy="340.5" r="11.1" fill="#ff0000" stroke="#414a4c" stroke-width="4.5"/>
<circle cx="1982" cy="345.5" r="11.1" fill="#ff0000" stroke="#414a4c" stroke-width="4.5"/>
<circle cx="1967.5" cy="362.5" r="11.1" fill="#ff0000" stroke="#414a4c" stroke-width="4.5"/>
<circle cx="1793" cy="369" r="11.1" fill="#ff0000" stroke="#414a4c" stroke-width="4.5"/>
<circle cx="1841" cy="404" r="11.1" fill="#ff0000" stroke="#414a4c" stroke-width="4.5"/>
<circle cx="1944" cy="396.5" r="11.1" fill="#1e90ff" stroke="#4a5052" stroke-width="4.5"/>
<circle cx="1828" cy="435" r="11.1" fill="#ff0000" stroke="#414a4c" stroke-width="4.5"/>
<circle cx="1875.8" cy="431" r="11.1" fill="#ff0000" stroke="#414a4c" stroke-width="4.5"/>
<circle cx="1909.5" cy="431" r="11.1" fill="#ff0000" stroke="#414a4c" stroke-width="4.5"/>
<circle cx="1952" cy="427" r="11.1" fill="#dedede" stroke="#3c4042" stroke-width="4.5"/>
<circle cx="1965.5" cy="426.5" r="11.1" fill="#dedede" stroke="#3c4042" stroke-width="4.5"/>
<circle cx="1950" cy="443.5" r="11.1" fill="#ff0000" stroke="#414a4c" stroke-width="4.5"/>
<circle cx="2020.5" cy="456" r="11.1" fill="#404040" stroke="#1c1c1c" stroke-width="4.5"/>
<circle cx="1831" cy="475" r="11.1" fill="#1e90ff" stroke="#4a5052" stroke-width="4.5"/>
<circle cx="1682.5" cy="582.4" r="11.1" fill="#ff0000" stroke="#414a4c" stroke-width="4.5"/>
<circle cx="1665.4" cy="621.7" r="11.1" fill="#1e90ff" stroke="#4a5052" stroke-width="4.5"/>
<text x="2252.4" y="162.5" textLength="31.7" lengthAdjust="spacingAndGlyphs" fill="#ff1a3c" stroke="#ff1a3c">12</text>
<text x="1943.4" y="242" textLength="31.7" lengthAdjust="spacingAndGlyphs" fill="#ff1a3c" stroke="#ff1a3c">18</text>
<text x="1970.4" y="283.6" textLength="31.7" lengthAdjust="spacingAndGlyphs" fill="#ff1a3c" stroke="#ff1a3c">10</text>
<text x="2088.4" y="280" textLength="31.7" lengthAdjust="spacingAndGlyphs" fill="#ff1a3c" stroke="#ff1a3c">17</text>
<text x="2230" y="228" textLength="31.7" lengthAdjust="spacingAndGlyphs" fill="#2e2e46" stroke="#2e2e46">23</text>
<text x="2285.6" y="222" textLength="31.7" lengthAdjust="spacingAndGlyphs" fill="#2e2e46" stroke="#2e2e46">24</text>
<text x="2346" y="272.5" textLength="31.7" lengthAdjust="spacingAndGlyphs" fill="#2e2e46" stroke="#2e2e46">22</text>
<text x="2320.4" y="241" textLength="31.7" lengthAdjust="spacingAndGlyphs" fill="#ff1a3c" stroke="#ff1a3c">11</text>
<text x="1909.6" y="348.7" textLength="15.8" lengthAdjust="spacingAndGlyphs" fill="#ff1a3c" stroke="#ff1a3c">5</text>
<text x="1993" y="338" textLength="15.8" lengthAdjust="spacingAndGlyphs" fill="#ff1a3c" stroke="#ff1a3c">6</text>
<text x="1939" y="371" textLength="15.8" lengthAdjust="spacingAndGlyphs" fill="#ff1a3c" stroke="#ff1a3c">8</text>
<text x="1767.4" y="381.5" textLength="15.8" lengthAdjust="spacingAndGlyphs" fill="#ff1a3c" stroke="#ff1a3c">1</text>
<text x="1825.4" y="389" textLength="31.7" lengthAdjust="spacingAndGlyphs" fill="#ff1a3c" stroke="#ff1a3c">15</text>
<text x="1922" y="389.6" textLength="15.8" lengthAdjust="spacingAndGlyphs" fill="#3f8cff" stroke="#3f8cff">3</text>
<text x="1782.9" y="447" textLength="31.7" lengthAdjust="spacingAndGlyphs" fill="#ff1a3c" stroke="#ff1a3c">16</text>
<text x="1862.4" y="466" textLength="31.7" lengthAdjust="spacingAndGlyphs" fill="#ff1a3c" stroke="#ff1a3c">13</text>
<text x="1907" y="470" textLength="15.8" lengthAdjust="spacingAndGlyphs" fill="#ff1a3c" stroke="#ff1a3c">7</text>
<text x="1979" y="432" textLength="31.7" lengthAdjust="spacingAndGlyphs" fill="#2e2e46" stroke="#2e2e46">21</text>
<text x="1938.4" y="476" textLength="31.7" lengthAdjust="spacingAndGlyphs" fill="#ff1a3c" stroke="#ff1a3c">19</text>
<text x="2009.6" y="496.6" textLength="15.8" lengthAdjust="spacingAndGlyphs" fill="#2e2e46" stroke="#2e2e46">9</text>
<text x="1801" y="486.5" textLength="15.8" lengthAdjust="spacingAndGlyphs" fill="#3f8cff" stroke="#3f8cff">4</text>
<text x="1695" y="589.5" textLength="15.8" lengthAdjust="spacingAndGlyphs" fill="#ff1a3c" stroke="#ff1a3c">2</text>
<text x="1679.4" y="627.8" textLength="31.7" lengthAdjust="spacingAndGlyphs" fill="#3f8cff" stroke="#3f8cff">14</text>
<ellipse cx="2142.4" cy="397.8" rx="366.2" ry="116.4" transform="rotate(-26.85 2142.4 397.8)" fill="none" stroke="#808b8a" stroke-width="3.5" stroke-dasharray="23 14"/>
<ellipse cx="2141.7" cy="397" rx="298.3" ry="96.2" transform="rotate(-26.6 2141.7 397)" fill="none" stroke="#f0583c" stroke-width="3.5"/>
<text transform="translate(2651.5 129.5) scale(0.885 1)" style="font-size:41px;font-weight:bold" fill="#0a0a0a" stroke="#0a0a0a">C</text>
<path d="M2851 121V796H3769.6" fill="none" stroke="#000" stroke-width="3.9" stroke-linejoin="miter"/>
<path d="M2837 206H2851M2837 300H2851M2837 401.7H2851M2837 495H2851M2837 597.5H2851M2837 687H2851M2927 796V811M3172 796V811M3414.7 796V811M3657 796V811" fill="none" stroke="#000" stroke-width="3.9"/>
<text x="2825.8" y="217" text-anchor="end" textLength="49.2" lengthAdjust="spacingAndGlyphs" fill="#17171f" stroke="#17171f">300</text>
<text x="2825.8" y="311" text-anchor="end" textLength="49.2" lengthAdjust="spacingAndGlyphs" fill="#17171f" stroke="#17171f">100</text>
<text x="2825.8" y="412.7" text-anchor="end" textLength="32.8" lengthAdjust="spacingAndGlyphs" fill="#17171f" stroke="#17171f">30</text>
<text x="2825.8" y="506" text-anchor="end" textLength="32.8" lengthAdjust="spacingAndGlyphs" fill="#17171f" stroke="#17171f">10</text>
<text x="2825.8" y="608.5" text-anchor="end" textLength="16.4" lengthAdjust="spacingAndGlyphs" fill="#17171f" stroke="#17171f">3</text>
<text x="2825.8" y="698" text-anchor="end" textLength="16.4" lengthAdjust="spacingAndGlyphs" fill="#17171f" stroke="#17171f">1</text>
<text x="2924.5" y="846.7" text-anchor="middle" textLength="49.2" lengthAdjust="spacingAndGlyphs" fill="#17171f" stroke="#17171f">300</text>
<text x="3169.5" y="846.7" text-anchor="middle" textLength="49.2" lengthAdjust="spacingAndGlyphs" fill="#17171f" stroke="#17171f">900</text>
<text x="3412.2" y="846.7" text-anchor="middle" textLength="65.6" lengthAdjust="spacingAndGlyphs" fill="#17171f" stroke="#17171f">2700</text>
<text x="3654.5" y="846.7" text-anchor="middle" textLength="65.6" lengthAdjust="spacingAndGlyphs" fill="#17171f" stroke="#17171f">8100</text>
<text transform="translate(2722 640) rotate(-90)" textLength="356" lengthAdjust="spacingAndGlyphs" style="font-size:28.5px" fill="#17171f" stroke="#17171f"><tspan font-style="italic">LRP5</tspan> (unmethylated copies)</text>
<text x="3092.8" y="903.5" textLength="388.2" lengthAdjust="spacingAndGlyphs" style="font-size:28.5px" fill="#17171f" stroke="#17171f"><tspan font-style="italic">GAPDH</tspan> (unmethylated copies)</text>
<g fill="#808b8a">
<circle cx="3275" cy="261.4" r="8.7"/><circle cx="3392.6" cy="218" r="8.7"/><circle cx="3414" cy="223" r="8.7"/><circle cx="3420.4" cy="233" r="8.7"/><circle cx="3394" cy="240.7" r="8.7"/><circle cx="3405" cy="249.5" r="8.7"/><circle cx="3471" cy="218" r="8.7"/><circle cx="3519" cy="199" r="8.7"/><circle cx="3514" cy="218" r="8.7"/><circle cx="3526.5" cy="220.4" r="8.7"/><circle cx="3509" cy="237" r="8.7"/><circle cx="3457" cy="250.8" r="8.7"/><circle cx="3453" cy="268.5" r="8.7"/><circle cx="3621" cy="234.3" r="8.7"/><circle cx="3670.6" cy="253.3" r="8.7"/><circle cx="3584.7" cy="266" r="8.7"/><circle cx="3636.5" cy="271" r="8.7"/><circle cx="3653" cy="277.3" r="8.7"/><circle cx="3316.8" cy="296.2" r="8.7"/><circle cx="3301.6" cy="305" r="8.7"/><circle cx="3294" cy="312.7" r="8.7"/><circle cx="3314" cy="311.4" r="8.7"/><circle cx="3271" cy="325.3" r="8.7"/><circle cx="3252" cy="336.7" r="8.7"/><circle cx="3290" cy="335.4" r="8.7"/><circle cx="3352" cy="298.8" r="8.7"/><circle cx="3370" cy="301" r="8.7"/><circle cx="3400" cy="269.7" r="8.7"/><circle cx="3481" cy="245.7" r="8.7"/><circle cx="3536.7" cy="263" r="8.7"/><circle cx="3554" cy="276" r="8.7"/><circle cx="3567" cy="286" r="8.7"/><circle cx="3564.5" cy="303.8" r="8.7"/><circle cx="3531.6" cy="301" r="8.7"/><circle cx="3503.8" cy="324" r="8.7"/><circle cx="3483.6" cy="326.6" r="8.7"/><circle cx="3526.5" cy="341.7" r="8.7"/><circle cx="3184" cy="413" r="8.7"/><circle cx="3237" cy="424" r="8.7"/><circle cx="3212" cy="363" r="8.7"/><circle cx="3223" cy="350.6" r="8.7"/><circle cx="3273.8" cy="351.8" r="8.7"/><circle cx="3251" cy="350.6" r="8.7"/><circle cx="3268.8" cy="386" r="8.7"/><circle cx="3271" cy="396" r="8.7"/><circle cx="3300" cy="407.4" r="8.7"/><circle cx="3314" cy="403.7" r="8.7"/><circle cx="3311.7" cy="363" r="8.7"/><circle cx="3327" cy="381" r="8.7"/><circle cx="3334.5" cy="392" r="8.7"/><circle cx="3352" cy="408.7" r="8.7"/><circle cx="3385" cy="407.4" r="8.7"/><circle cx="3410" cy="398.6" r="8.7"/><circle cx="3421.7" cy="396" r="8.7"/><circle cx="3478.5" cy="412.5" r="8.7"/><circle cx="3522.8" cy="375" r="8.7"/><circle cx="3444" cy="384.7" r="8.7"/><circle cx="3467" cy="384.7" r="8.7"/><circle cx="3463" cy="365.7" r="8.7"/><circle cx="3488.6" cy="354" r="8.7"/><circle cx="3527.8" cy="346.8" r="8.7"/><circle cx="3339.5" cy="494" r="8.7"/><circle cx="3360.5" cy="524" r="8.7"/><circle cx="3352.5" cy="363.9" r="8.7"/><circle cx="3363.6" cy="362.3" r="8.7"/><circle cx="3367.1" cy="324.2" r="8.7"/><circle cx="3345.6" cy="346.5" r="8.7"/><circle cx="3404.5" cy="332.4" r="8.7"/><circle cx="3393.3" cy="338.5" r="8.7"/><circle cx="3370.4" cy="328.3" r="8.7"/><circle cx="3389.6" cy="366.8" r="8.7"/><circle cx="3378.2" cy="364.1" r="8.7"/><circle cx="3370.3" cy="322.5" r="8.7"/><circle cx="3390.9" cy="347.5" r="8.7"/><circle cx="3395.3" cy="337.3" r="8.7"/><circle cx="3395.9" cy="364.3" r="8.7"/><circle cx="3396.7" cy="366.7" r="8.7"/><circle cx="3370.7" cy="371.9" r="8.7"/><circle cx="3377.9" cy="377.3" r="8.7"/><circle cx="3336.3" cy="350.1" r="8.7"/><circle cx="3401.4" cy="331.7" r="8.7"/><circle cx="3455.2" cy="289.7" r="8.7"/><circle cx="3432.8" cy="309.8" r="8.7"/><circle cx="3407.1" cy="343.5" r="8.7"/><circle cx="3471.2" cy="343.8" r="8.7"/><circle cx="3493.5" cy="335" r="8.7"/><circle cx="3459.2" cy="273.4" r="8.7"/><circle cx="3526.9" cy="280.8" r="8.7"/><circle cx="3470.4" cy="272.6" r="8.7"/><circle cx="3511.2" cy="289.3" r="8.7"/><circle cx="3371" cy="308" r="8.7"/><circle cx="3401.9" cy="301.3" r="8.7"/><circle cx="3402.4" cy="364.9" r="8.7"/><circle cx="3441.9" cy="270" r="8.7"/><circle cx="3476.4" cy="281.9" r="8.7"/><circle cx="3458" cy="360.3" r="8.7"/><circle cx="3377" cy="306.4" r="8.7"/><circle cx="3438.1" cy="270.5" r="8.7"/><circle cx="3366.4" cy="346" r="8.7"/><circle cx="3445.7" cy="279.6" r="8.7"/><circle cx="3414.7" cy="378.2" r="8.7"/><circle cx="3517.1" cy="266" r="8.7"/><circle cx="3428.2" cy="326" r="8.7"/><circle cx="3471.3" cy="311.9" r="8.7"/><circle cx="3453.9" cy="323.3" r="8.7"/><circle cx="3532.1" cy="271.8" r="8.7"/><circle cx="3430.2" cy="345.7" r="8.7"/><circle cx="3370.7" cy="332.8" r="8.7"/><circle cx="3540.8" cy="268.8" r="8.7"/><circle cx="3426.1" cy="274.6" r="8.7"/><circle cx="3420.9" cy="335.9" r="8.7"/><circle cx="3336.5" cy="382.7" r="8.7"/><circle cx="3446.4" cy="269.3" r="8.7"/><circle cx="3462.3" cy="303.1" r="8.7"/><circle cx="3468.8" cy="288.1" r="8.7"/><circle cx="3490.9" cy="316.6" r="8.7"/><circle cx="3493.6" cy="338.5" r="8.7"/><circle cx="3380.1" cy="344" r="8.7"/><circle cx="3448.6" cy="295" r="8.7"/><circle cx="3398.6" cy="319.7" r="8.7"/><circle cx="3411.5" cy="342.3" r="8.7"/><circle cx="3387.5" cy="332" r="8.7"/><circle cx="3460.9" cy="331.6" r="8.7"/><circle cx="3383.1" cy="318.3" r="8.7"/><circle cx="3491.1" cy="264.9" r="8.7"/><circle cx="3365.3" cy="349.3" r="8.7"/><circle cx="3462.4" cy="265.4" r="8.7"/><circle cx="3390.4" cy="326.1" r="8.7"/><circle cx="3505.9" cy="278" r="8.7"/><circle cx="3499.5" cy="253.5" r="8.7"/><circle cx="3406.8" cy="350.4" r="8.7"/><circle cx="3517.6" cy="273.4" r="8.7"/><circle cx="3360.4" cy="319.4" r="8.7"/><circle cx="3429.5" cy="291.4" r="8.7"/><circle cx="3516.8" cy="313.8" r="8.7"/><circle cx="3358" cy="336.9" r="8.7"/><circle cx="3508.7" cy="297.6" r="8.7"/><circle cx="3496.1" cy="273.4" r="8.7"/><circle cx="3346.8" cy="344" r="8.7"/><circle cx="3490.3" cy="268.7" r="8.7"/><circle cx="3399.1" cy="330.2" r="8.7"/><circle cx="3414.8" cy="321.5" r="8.7"/><circle cx="3440.5" cy="364.2" r="8.7"/><circle cx="3503.4" cy="320.4" r="8.7"/><circle cx="3472.2" cy="303.5" r="8.7"/><circle cx="3383.5" cy="330.3" r="8.7"/><circle cx="3446.4" cy="292.7" r="8.7"/><circle cx="3531.8" cy="291.2" r="8.7"/><circle cx="3526.1" cy="282" r="8.7"/><circle cx="3356.3" cy="339.9" r="8.7"/><circle cx="3472.5" cy="304" r="8.7"/><circle cx="3435.6" cy="365.5" r="8.7"/><circle cx="3453.8" cy="294.6" r="8.7"/><circle cx="3397.3" cy="377.1" r="8.7"/><circle cx="3442.8" cy="345.7" r="8.7"/><circle cx="3391.1" cy="311.6" r="8.7"/><circle cx="3456.8" cy="342.1" r="8.7"/><circle cx="3376.7" cy="380.3" r="8.7"/><circle cx="3479.1" cy="335.5" r="8.7"/><circle cx="3386.8" cy="347.9" r="8.7"/><circle cx="3418.1" cy="326.3" r="8.7"/><circle cx="3346.1" cy="366" r="8.7"/><circle cx="3388.2" cy="325.2" r="8.7"/><circle cx="3409.8" cy="348.5" r="8.7"/><circle cx="3449" cy="299" r="8.7"/><circle cx="3361.7" cy="340.2" r="8.7"/><circle cx="3356.5" cy="366.2" r="8.7"/><circle cx="3478" cy="286.3" r="8.7"/><circle cx="3412.8" cy="342.6" r="8.7"/><circle cx="3492.4" cy="278.9" r="8.7"/><circle cx="3506.6" cy="296.7" r="8.7"/><circle cx="3382.3" cy="361.5" r="8.7"/><circle cx="3330.3" cy="376.1" r="8.7"/><circle cx="3353.8" cy="386.9" r="8.7"/><circle cx="3389.9" cy="350.5" r="8.7"/><circle cx="3329" cy="364.3" r="8.7"/><circle cx="3509.9" cy="298.3" r="8.7"/><circle cx="3495.1" cy="278.7" r="8.7"/><circle cx="3522.5" cy="242.5" r="8.7"/><circle cx="3446.7" cy="351.8" r="8.7"/><circle cx="3545.9" cy="306.7" r="8.7"/><circle cx="3446.3" cy="269.2" r="8.7"/><circle cx="3412" cy="291.5" r="8.7"/><circle cx="3522.3" cy="303.2" r="8.7"/><circle cx="3476.9" cy="300.7" r="8.7"/><circle cx="3437.3" cy="310.7" r="8.7"/><circle cx="3467.9" cy="312.9" r="8.7"/><circle cx="3464.3" cy="292.7" r="8.7"/><circle cx="3573.7" cy="260.1" r="8.7"/><circle cx="3552.4" cy="305" r="8.7"/><circle cx="3354.7" cy="307.5" r="8.7"/><circle cx="3520.3" cy="265.5" r="8.7"/><circle cx="3440.3" cy="310.4" r="8.7"/><circle cx="3431.4" cy="284.6" r="8.7"/><circle cx="3424.7" cy="311.7" r="8.7"/><circle cx="3499.4" cy="299.5" r="8.7"/><circle cx="3308.3" cy="362.2" r="8.7"/><circle cx="3448.4" cy="335.1" r="8.7"/><circle cx="3456.2" cy="355.7" r="8.7"/><circle cx="3426.4" cy="293.4" r="8.7"/><circle cx="3400.8" cy="363.2" r="8.7"/><circle cx="3406.4" cy="363.4" r="8.7"/><circle cx="3516.7" cy="299.1" r="8.7"/><circle cx="3506.4" cy="279.5" r="8.7"/><circle cx="3429.5" cy="305.1" r="8.7"/><circle cx="3375" cy="301.2" r="8.7"/><circle cx="3385.3" cy="312" r="8.7"/><circle cx="3340.7" cy="374.3" r="8.7"/><circle cx="3465.1" cy="295.1" r="8.7"/><circle cx="3545.5" cy="295.9" r="8.7"/><circle cx="3502.7" cy="267.4" r="8.7"/><circle cx="3341.6" cy="387.3" r="8.7"/><circle cx="3469" cy="327.8" r="8.7"/><circle cx="3483.6" cy="337.8" r="8.7"/><circle cx="3426.8" cy="347.5" r="8.7"/><circle cx="3426.9" cy="374.5" r="8.7"/><circle cx="3334.9" cy="405.6" r="8.7"/><circle cx="3385.5" cy="333.7" r="8.7"/><circle cx="3443.8" cy="323.9" r="8.7"/><circle cx="3372" cy="357.8" r="8.7"/><circle cx="3479.8" cy="325.9" r="8.7"/><circle cx="3406" cy="386.8" r="8.7"/><circle cx="3347.1" cy="371.9" r="8.7"/><circle cx="3313.8" cy="395.6" r="8.7"/><circle cx="3461.4" cy="270.6" r="8.7"/><circle cx="3330.2" cy="381" r="8.7"/><circle cx="3471.2" cy="277.3" r="8.7"/><circle cx="3390.8" cy="348.8" r="8.7"/><circle cx="3469.4" cy="355.5" r="8.7"/><circle cx="3461.6" cy="288.7" r="8.7"/><circle cx="3467.4" cy="328.4" r="8.7"/><circle cx="3498.7" cy="336" r="8.7"/><circle cx="3422.4" cy="359.4" r="8.7"/><circle cx="3428.6" cy="311.1" r="8.7"/><circle cx="3561.7" cy="290.9" r="8.7"/><circle cx="3433" cy="352.1" r="8.7"/><circle cx="3337.2" cy="347.8" r="8.7"/><circle cx="3501.2" cy="289.1" r="8.7"/><circle cx="3370.1" cy="369.2" r="8.7"/><circle cx="3477.8" cy="341.5" r="8.7"/><circle cx="3500.9" cy="279" r="8.7"/><circle cx="3402.5" cy="333.6" r="8.7"/><circle cx="3441.3" cy="365.9" r="8.7"/><circle cx="3461.1" cy="300.2" r="8.7"/><circle cx="3496.2" cy="279" r="8.7"/><circle cx="3432.5" cy="268.6" r="8.7"/>
</g>
<circle cx="3511" cy="167.5" r="11.1" fill="#ff0000" stroke="#414a4c" stroke-width="4.5"/>
<circle cx="3604" cy="204.6" r="11.1" fill="#ff0000" stroke="#414a4c" stroke-width="4.5"/>
<circle cx="3227" cy="258" r="11.1" fill="#ff0000" stroke="#414a4c" stroke-width="4.5"/>
<circle cx="3148" cy="268.5" r="11.1" fill="#ff0000" stroke="#414a4c" stroke-width="4.5"/>
<circle cx="3375.5" cy="277" r="11.1" fill="#ff0000" stroke="#414a4c" stroke-width="4.5"/>
<circle cx="3291.5" cy="377" r="11.1" fill="#404040" stroke="#1c1c1c" stroke-width="4.5"/>
<circle cx="3240" cy="361.5" r="11.1" fill="#ff0000" stroke="#414a4c" stroke-width="4.5"/>
<circle cx="3254" cy="409.5" r="11.1" fill="#ff0000" stroke="#414a4c" stroke-width="4.5"/>
<circle cx="3570.6" cy="383.7" r="11.1" fill="#dedede" stroke="#3c4042" stroke-width="4.5"/>
<circle cx="3604" cy="413" r="11.1" fill="#dedede" stroke="#3c4042" stroke-width="4.5"/>
<circle cx="3516" cy="454.4" r="11.1" fill="#dedede" stroke="#3c4042" stroke-width="4.5"/>
<circle cx="2937" cy="440" r="11.1" fill="#1e90ff" stroke="#4a5052" stroke-width="4.5"/>
<circle cx="3113" cy="478" r="11.1" fill="#ff0000" stroke="#414a4c" stroke-width="4.5"/>
<circle cx="3166.5" cy="459.7" r="11.1" fill="#ff0000" stroke="#414a4c" stroke-width="4.5"/>
<circle cx="3200.6" cy="525.4" r="11.1" fill="#ff0000" stroke="#414a4c" stroke-width="4.5"/>
<circle cx="3221.8" cy="552" r="11.1" fill="#ff0000" stroke="#414a4c" stroke-width="4.5"/>
<circle cx="3064" cy="552" r="11.1" fill="#ff0000" stroke="#414a4c" stroke-width="4.5"/>
<circle cx="3237" cy="571" r="11.1" fill="#dedede" stroke="#3c4042" stroke-width="4.5"/>
<circle cx="3224" cy="596" r="11.1" fill="#dedede" stroke="#3c4042" stroke-width="4.5"/>
<circle cx="3215.7" cy="596" r="11.1" fill="#1e90ff" stroke="#4a5052" stroke-width="4.5"/>
<circle cx="3181" cy="596" r="11.1" fill="#ff0000" stroke="#414a4c" stroke-width="4.5"/>
<circle cx="3098.6" cy="629.2" r="11.1" fill="#ff0000" stroke="#414a4c" stroke-width="4.5"/>
<circle cx="2953" cy="688" r="11.1" fill="#ff0000" stroke="#414a4c" stroke-width="4.5"/>
<circle cx="3102" cy="688" r="11.1" fill="#1e90ff" stroke="#4a5052" stroke-width="4.5"/>
<text x="3524.4" y="167.5" textLength="31.7" lengthAdjust="spacingAndGlyphs" fill="#ff1a3c" stroke="#ff1a3c">12</text>
<text x="3618.4" y="212" textLength="31.7" lengthAdjust="spacingAndGlyphs" fill="#ff1a3c" stroke="#ff1a3c">11</text>
<text x="3214.1" y="243" textLength="31.7" lengthAdjust="spacingAndGlyphs" fill="#ff1a3c" stroke="#ff1a3c">10</text>
<text x="3159.4" y="275" textLength="31.7" lengthAdjust="spacingAndGlyphs" fill="#ff1a3c" stroke="#ff1a3c">13</text>
<text x="3357.9" y="262" textLength="31.7" lengthAdjust="spacingAndGlyphs" fill="#ff1a3c" stroke="#ff1a3c">17</text>
<text x="3294" y="358" textLength="15.8" lengthAdjust="spacingAndGlyphs" fill="#2e2e46" stroke="#2e2e46">9</text>
<text x="3214.7" y="390.6" textLength="15.8" lengthAdjust="spacingAndGlyphs" fill="#ff1a3c" stroke="#ff1a3c">8</text>
<text x="3251.5" y="445" textLength="15.8" lengthAdjust="spacingAndGlyphs" fill="#ff1a3c" stroke="#ff1a3c">6</text>
<text x="3584" y="390.6" textLength="31.7" lengthAdjust="spacingAndGlyphs" fill="#2e2e46" stroke="#2e2e46">24</text>
<text x="3618" y="420" textLength="31.7" lengthAdjust="spacingAndGlyphs" fill="#2e2e46" stroke="#2e2e46">22</text>
<text x="3529" y="461" textLength="31.7" lengthAdjust="spacingAndGlyphs" fill="#2e2e46" stroke="#2e2e46">23</text>
<text x="2951.4" y="448.6" textLength="31.7" lengthAdjust="spacingAndGlyphs" fill="#3f8cff" stroke="#3f8cff">14</text>
<text x="3065.2" y="496.6" textLength="31.7" lengthAdjust="spacingAndGlyphs" fill="#ff1a3c" stroke="#ff1a3c">15</text>
<text x="3180" y="461" textLength="15.8" lengthAdjust="spacingAndGlyphs" fill="#ff1a3c" stroke="#ff1a3c">5</text>
<text x="3156.1" y="538" textLength="31.7" lengthAdjust="spacingAndGlyphs" fill="#ff1a3c" stroke="#ff1a3c">18</text>
<text x="3230.2" y="553" textLength="31.7" lengthAdjust="spacingAndGlyphs" fill="#ff1a3c" stroke="#ff1a3c">19</text>
<text x="3077.4" y="560.7" textLength="15.8" lengthAdjust="spacingAndGlyphs" fill="#ff1a3c" stroke="#ff1a3c">1</text>
<text x="3251" y="575.8" textLength="31.7" lengthAdjust="spacingAndGlyphs" fill="#2e2e46" stroke="#2e2e46">21</text>
<text x="3237" y="608.6" textLength="31.7" lengthAdjust="spacingAndGlyphs" fill="#2e2e46" stroke="#2e2e46">20</text>
<text x="3203.6" y="632" textLength="15.8" lengthAdjust="spacingAndGlyphs" fill="#3f8cff" stroke="#3f8cff">3</text>
<text x="3155.7" y="601.6" textLength="15.8" lengthAdjust="spacingAndGlyphs" fill="#ff1a3c" stroke="#ff1a3c">7</text>
<text x="3111.4" y="636.5" textLength="31.7" lengthAdjust="spacingAndGlyphs" fill="#ff1a3c" stroke="#ff1a3c">16</text>
<text x="2966.6" y="696.6" textLength="15.8" lengthAdjust="spacingAndGlyphs" fill="#ff1a3c" stroke="#ff1a3c">2</text>
<text x="3116" y="699" textLength="15.8" lengthAdjust="spacingAndGlyphs" fill="#3f8cff" stroke="#3f8cff">4</text>
<ellipse cx="3413.6" cy="324.9" rx="351.5" ry="147.6" transform="rotate(-22.6 3413.6 324.9)" fill="none" stroke="#808b8a" stroke-width="3.5" stroke-dasharray="23 14"/>
<ellipse cx="3413.8" cy="325.5" rx="288.6" ry="122.7" transform="rotate(-22.2 3413.8 325.5)" fill="none" stroke="#f0583c" stroke-width="3.5"/>
<rect x="3546.5" y="555.5" width="212" height="199.5" fill="#fff" stroke="#000" stroke-width="3.4"/>
<circle cx="3570" cy="580" r="8.7" fill="#808b8a"/>
<circle cx="3570" cy="604.8" r="9.6" fill="#dedede" stroke="#3c4042" stroke-width="2.8"/>
<circle cx="3570" cy="629.5" r="9.6" fill="#ff0000" stroke="#414a4c" stroke-width="2.8"/>
<circle cx="3570" cy="654.3" r="9.6" fill="#1e90ff" stroke="#4a5052" stroke-width="2.8"/>
<circle cx="3570" cy="679" r="9.6" fill="#404040" stroke="#1c1c1c" stroke-width="2.8"/>
<path d="M3553 703.8H3589" stroke="#808b8a" stroke-width="2.4" stroke-dasharray="9 4" fill="none"/>
<path d="M3553 728.6H3589" stroke="#f0583c" stroke-width="2.4" fill="none"/>
<text x="3603" y="588" style="font-size:23px" fill="#17171f" stroke="#17171f">Healthy</text>
<text x="3603" y="612.8" style="font-size:23px" fill="#17171f" stroke="#17171f">XLA</text>
<text x="3603" y="637.5" style="font-size:23px" fill="#17171f" stroke="#17171f">SCID</text>
<text x="3603" y="662.3" style="font-size:23px" fill="#17171f" stroke="#17171f">DO-SCID</text>
<text x="3603" y="687" style="font-size:23px" fill="#17171f" stroke="#17171f">SCID with ME</text>
<text x="3603" y="711.8" style="font-size:23px" fill="#17171f" stroke="#17171f">99.9% CI</text>
<text x="3603" y="736.6" style="font-size:23px" fill="#17171f" stroke="#17171f">99% CI</text>
</g>
<g class="ttl">
<text transform="translate(329 91) scale(0.982 1)" style="font-size:55.8px" fill="#687183">T cells</text>
<text transform="translate(1616.9 91) scale(1.035 1)" style="font-size:52.8px" fill="#687183">NK cells</text>
<text transform="translate(2905 91) scale(0.977 1)" style="font-size:55.8px" fill="#687183">B cells</text>
</g>
</svg>
</body></html>
